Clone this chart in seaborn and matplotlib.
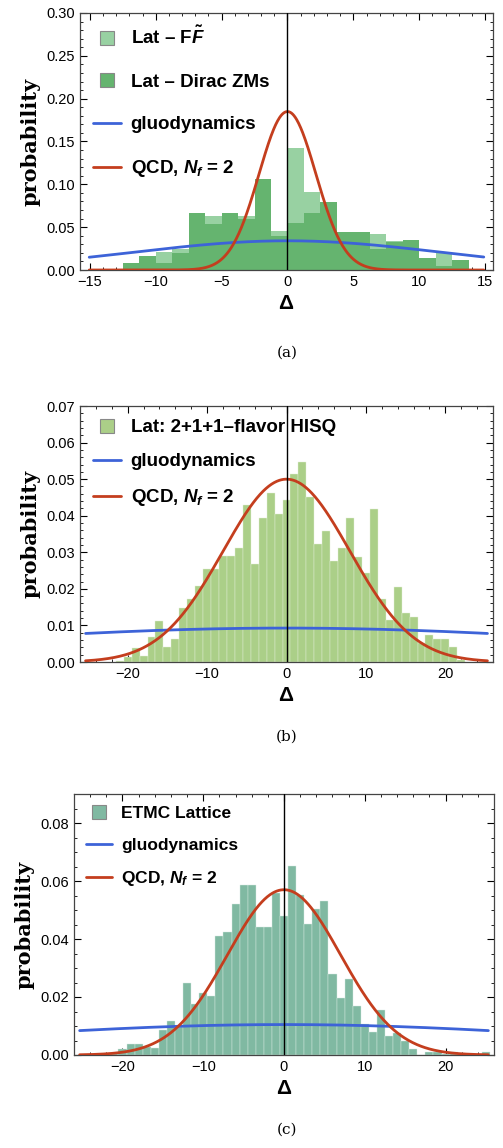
import numpy as np
import matplotlib
matplotlib.use("Agg")
import matplotlib.pyplot as plt
import seaborn as sns
from matplotlib.lines import Line2D
from matplotlib.ticker import MultipleLocator

# ---- panel (a): bins of width 1.25 ----
a_edges = [-12.5 + 1.25 * k for k in range(22)]
a_ff = [0.008, 0.016, 0.021, 0.025, 0.067, 0.063, 0.067, 0.063, 0.106, 0.045,
        0.142, 0.091, 0.079, 0.044, 0.044, 0.042, 0.034, 0.035, 0.014, 0.021, 0.012]
a_zm = [0.008, 0.016, 0.008, 0.020, 0.067, 0.054, 0.067, 0.060, 0.106, 0.040,
        0.055, 0.067, 0.079, 0.044, 0.044, 0.025, 0.033, 0.035, 0.014, 0.005, 0.012]

# ---- panel (b): integer-centred bins ----
b_centers = list(range(-21, 23))
b_vals = [0.0003, 0.0014, 0.0039, 0.0017, 0.0067, 0.0112, 0.0041, 0.0064, 0.0148,
          0.0172, 0.0208, 0.0253, 0.0253, 0.029, 0.029, 0.0313, 0.043, 0.0267,
          0.0393, 0.0463, 0.0406, 0.0443, 0.0513, 0.0547, 0.0452, 0.0324, 0.0358,
          0.0277, 0.0313, 0.0393, 0.0288, 0.0242, 0.0417, 0.0172, 0.0114, 0.0205,
          0.0135, 0.0123, 0.0053, 0.0075, 0.0064, 0.0064, 0.004, 0.0006]

# ---- panel (c) ----
c_centers = list(range(-21, 26))
c_vals = [0.0008, 0.002, 0.0037, 0.0037, 0.0027, 0.0025, 0.0087, 0.0117, 0.0097,
          0.025, 0.0175, 0.0214, 0.0205, 0.041, 0.0425, 0.052, 0.0585, 0.0585,
          0.044, 0.0441, 0.056, 0.048, 0.065, 0.055, 0.045, 0.0505, 0.053, 0.028,
          0.0197, 0.0263, 0.017, 0.0106, 0.008, 0.0156, 0.0064, 0.0076, 0.005,
          0.0022, 0.0, 0.001, 0.001, 0.0004, 0.001, 0.0, 0.0, 0.0, 0.001]

# gaussian widths of the model curves (gluodynamics, QCD Nf=2)
sig_glue = [11.7, 43.0, 38.0]
sig_qcd = [2.157, 7.98, 7.0]

BLUE = "#3d63d8"
RED = "#c43e1e"

sns.set_style("ticks")
plt.rcParams["font.family"] = ["Liberation Sans", "DejaVu Sans"]
plt.rcParams["mathtext.fontset"] = "custom"
plt.rcParams["mathtext.it"] = "Liberation Sans:italic:bold"
plt.rcParams["mathtext.rm"] = "Liberation Sans:bold"
for k in ["text.color", "axes.labelcolor", "xtick.color", "ytick.color"]:
    plt.rcParams[k] = "black"

fig = plt.figure(figsize=(5.03, 11.48), dpi=100)
W, H = 503, 1148
boxes = [(80, 13, 493, 270), (80, 406, 493, 662), (74, 794, 494, 1055)]
axes = [fig.add_axes([l / W, 1 - b / H, (r - l) / W, (b - t) / H]) for l, t, r, b in boxes]


def centers_to_edges(c):
    return [x - 0.5 for x in c] + [c[-1] + 0.5]


def curves(ax, xlim, i):
    x = np.linspace(xlim[0] + 0.7, xlim[1] - 0.7, 600)
    for s, col in [(sig_glue[i], BLUE), (sig_qcd[i], RED)]:
        ax.plot(x, np.exp(-x**2 / (2 * s**2)) / (s * np.sqrt(2 * np.pi)), color=col, lw=2, zorder=4)
    ax.axvline(0, color="black", lw=1, zorder=5)


def frame(ax, xlim, ylim, xmaj, xmin, ymaj, ymin, yfmt):
    ax.set_xlim(xlim)
    ax.set_ylim(ylim)
    ax.xaxis.set_major_locator(MultipleLocator(xmaj))
    ax.xaxis.set_minor_locator(MultipleLocator(xmin))
    ax.yaxis.set_major_locator(MultipleLocator(ymaj))
    ax.yaxis.set_minor_locator(MultipleLocator(ymin))
    ax.yaxis.set_major_formatter(plt.FormatStrFormatter(yfmt))
    ax.tick_params(which="both", direction="in", top=True, right=True, labelsize=10.5)
    ax.tick_params(which="major", length=5)
    ax.tick_params(which="minor", length=2.5)
    for sp in ax.spines.values():
        sp.set_linewidth(0.9)
        sp.set_color("#444444")
    ax.set_ylabel("probability", family="DejaVu Serif", fontweight="bold", fontsize=15)
    ax.set_xlabel(r"$\Delta$", fontsize=15)


def sq(col):
    return Line2D([], [], marker="s", ls="none", markersize=10, markerfacecolor=col,
                  markeredgecolor="#888888", markeredgewidth=0.8)


line_h = [Line2D([], [], color=BLUE, lw=2), Line2D([], [], color=RED, lw=2)]
line_l = ["gluodynamics", r"QCD, $N_f$ = 2"]
leg_kw = dict(loc="upper left", frameon=False, handlelength=1.5, handletextpad=0.5,
              borderaxespad=0.3)

# (a)
ax = axes[0]
centers_a = [(a_edges[k] + a_edges[k + 1]) / 2 for k in range(len(a_ff))]
sns.histplot(x=centers_a, weights=a_ff, bins=a_edges, color="#98d1a2", alpha=1, linewidth=0, ax=ax)
sns.histplot(x=centers_a, weights=a_zm, bins=a_edges, color="#65b46f", alpha=1, linewidth=0, ax=ax)
curves(ax, (-15.75, 15.6), 0)
frame(ax, (-15.75, 15.6), (0, 0.30), 5, 1, 0.05, 0.01, "%.2f")
ax.legend([sq("#98d1a2"), sq("#65b46f")] + line_h,
          [r"Lat – F$\tilde{F}$", "Lat – Dirac ZMs"] + line_l,
          labelspacing=1.35, prop={"weight": "bold", "size": 13.5}, **leg_kw)

# (b)
ax = axes[1]
sns.histplot(x=b_centers, weights=b_vals, bins=centers_to_edges(b_centers), color="#abcf88",
             alpha=1, linewidth=0.3, edgecolor="#e4f0d8", ax=ax)
curves(ax, (-26, 26), 1)
frame(ax, (-26, 26), (0, 0.07), 10, 2, 0.01, 0.002, "%.2f")
ax.legend([sq("#abcf88")] + line_h, ["Lat: 2+1+1–flavor HISQ"] + line_l,
          labelspacing=0.9, prop={"weight": "bold", "size": 13.5}, **leg_kw)

# (c)
ax = axes[2]
sns.histplot(x=c_centers, weights=c_vals, bins=centers_to_edges(c_centers), color="#80b9a2",
             alpha=1, linewidth=0.3, edgecolor="#d8ebe3", ax=ax)
curves(ax, (-26, 26), 2)
frame(ax, (-26, 26), (0, 0.09), 10, 2, 0.02, 0.005, "%.2f")
ax.legend([sq("#80b9a2")] + line_h, ["ETMC Lattice"] + line_l,
          labelspacing=0.95, prop={"weight": "bold", "size": 12.5}, **leg_kw)

for lab, y in [("(a)", 353), ("(b)", 737), ("(c)", 1130)]:
    fig.text(287 / W, 1 - y / H, lab, ha="center", va="center", family="DejaVu Serif", fontsize=11)

fig.savefig("out.png", dpi=100)
